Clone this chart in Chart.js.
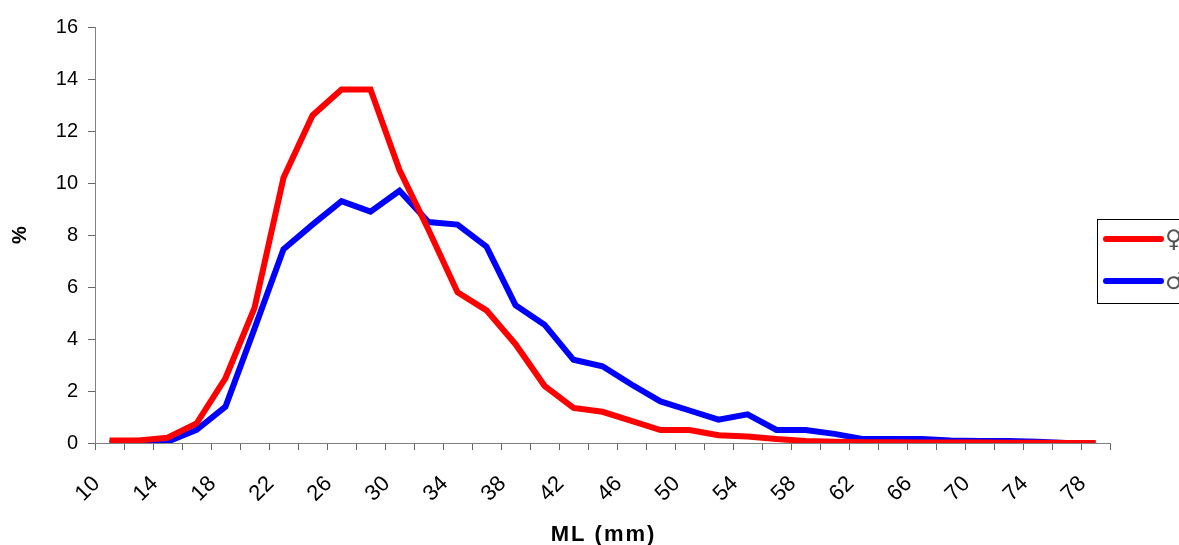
<!DOCTYPE html>
<html>
<head>
<meta charset="utf-8">
<script src="https://cdn.jsdelivr.net/npm/chart.js@4.4.1/dist/chart.umd.min.js"></script>
<style>
  html, body { margin: 0; padding: 0; background: #fff; }
  #contenedor { width: 1179px; height: 545px; position: relative; }
</style>
</head>
<body>
<div id="contenedor"><canvas id="graficoTallas"></canvas></div>
<script>
// clases de talla ML (mm)
const tallas = [10, 12, 14, 16, 18, 20, 22, 24, 26, 28, 30, 32, 34, 36, 38, 40, 42, 44,
  46, 48, 50, 52, 54, 56, 58, 60, 62, 64, 66, 68, 70, 72, 74, 76, 78];

// porcentaje de hembras
const hembras = [0.1, 0.1, 0.2, 0.75, 2.5, 5.2, 10.2, 12.6, 13.6, 13.6, 10.5, 8.2, 5.8, 5.1,
  3.8, 2.2, 1.35, 1.2, 0.85, 0.5, 0.5, 0.3, 0.25, 0.15, 0.08, 0.05, 0.03, 0.03, 0.02, 0.02,
  0.02, 0.01, 0.01, 0, 0];

// porcentaje de machos
const machos = [0, 0, 0.05, 0.5, 1.4, 4.4, 7.45, 8.4, 9.3, 8.9, 9.7, 8.5, 8.4, 7.55, 5.3,
  4.55, 3.2, 2.95, 2.25, 1.6, 1.25, 0.9, 1.1, 0.5, 0.5, 0.35, 0.15, 0.15, 0.15, 0.1, 0.08,
  0.08, 0.05, 0, 0];

const marcasY = [0, 2, 4, 6, 8, 10, 12, 14, 16];

const etiquetasLeyenda = ['\u2640', '\u2642'];

const tituloX = 'ML (mm)';

// leyenda dibujada a mano, con su recuadro
const leyendaCaja = {
  id: 'leyendaCaja',
  afterDraw(chart) {
    const ctx = chart.ctx;
    ctx.save();
    ctx.strokeStyle = '#000';
    ctx.lineWidth = 1;
    ctx.strokeRect(1097.5, 219.5, 100, 84);
    chart.data.datasets.forEach((ds, i) => {
      const y = 239 + i * 42;
      ctx.strokeStyle = ds.borderColor;
      ctx.lineWidth = 6;
      ctx.lineCap = 'round';
      ctx.beginPath();
      ctx.moveTo(1106, y);
      ctx.lineTo(1161, y);
      ctx.stroke();
      ctx.fillStyle = '#555';
      ctx.font = '24px "DejaVu Sans"';
      ctx.textBaseline = 'middle';
      ctx.fillText(ds.label, 1165, y + 2);
    });
    ctx.restore();
  }
};

// titulo del eje x con letras algo separadas
const tituloEjeX = {
  id: 'tituloEjeX',
  afterDraw(chart) {
    const ctx = chart.ctx;
    const area = chart.chartArea;
    ctx.save();
    ctx.fillStyle = '#000';
    ctx.font = 'bold 22px "Liberation Sans", Arial';
    ctx.letterSpacing = '2px';
    ctx.textAlign = 'center';
    ctx.textBaseline = 'middle';
    ctx.fillText(tituloX, (area.left + area.right) / 2 + 1, 535);
    ctx.restore();
  }
};

const config = {
  type: 'line',
  data: {
    labels: tallas,
    datasets: [{
      label: etiquetasLeyenda[0],
      data: hembras,
      borderColor: '#ff0000',
      borderWidth: 6,
      pointRadius: 0,
      tension: 0
    }, {
      label: etiquetasLeyenda[1],
      data: machos,
      borderColor: '#0000ff',
      borderWidth: 6,
      pointRadius: 0,
      tension: 0
    }]
  },
  options: {
    responsive: true,
    maintainAspectRatio: false,
    animation: false,
    layout: { padding: { top: 27, right: 69, left: 0, bottom: 0 } },
    plugins: {
      legend: { display: false },
      tooltip: { enabled: false }
    },
    scales: {
      x: {
        offset: true,
        grid: {
          offset: true,
          drawOnChartArea: false,
          drawTicks: true,
          tickLength: 7,
          color: '#666'
        },
        border: { color: '#808080', width: 1 },
        ticks: {
          autoSkip: false,
          maxRotation: 45,
          minRotation: 45,
          padding: 8,
          color: '#000',
          font: { family: '"Liberation Sans", Arial', size: 22 },
          // espacios finales para desplazar el texto girado como en el original
          callback: (v, i) => (i % 2 === 0 ? tallas[i] + '   ' : '')
        },
        afterFit: (scale) => { scale.height = 102; }
      },
      y: {
        min: 0,
        max: 16,
        afterBuildTicks: (scale) => { scale.ticks = marcasY.map(v => ({ value: v })); },
        grid: {
          drawOnChartArea: false,
          drawTicks: true,
          tickLength: 7,
          color: '#666'
        },
        border: { color: '#808080', width: 1 },
        ticks: {
          padding: 10,
          color: '#000',
          font: { family: '"Liberation Sans", Arial', size: 20 }
        },
        title: {
          display: true,
          text: '%',
          color: '#000',
          font: { family: '"Liberation Sans", Arial', size: 20, weight: 'bold' },
          padding: { top: 8, bottom: 0 }
        },
        afterFit: (scale) => { scale.width = 95; }
      }
    }
  },
  plugins: [leyendaCaja, tituloEjeX]
};

const ctx = document.getElementById('graficoTallas').getContext('2d');
new Chart(ctx, config);
</script>
</body>
</html>
